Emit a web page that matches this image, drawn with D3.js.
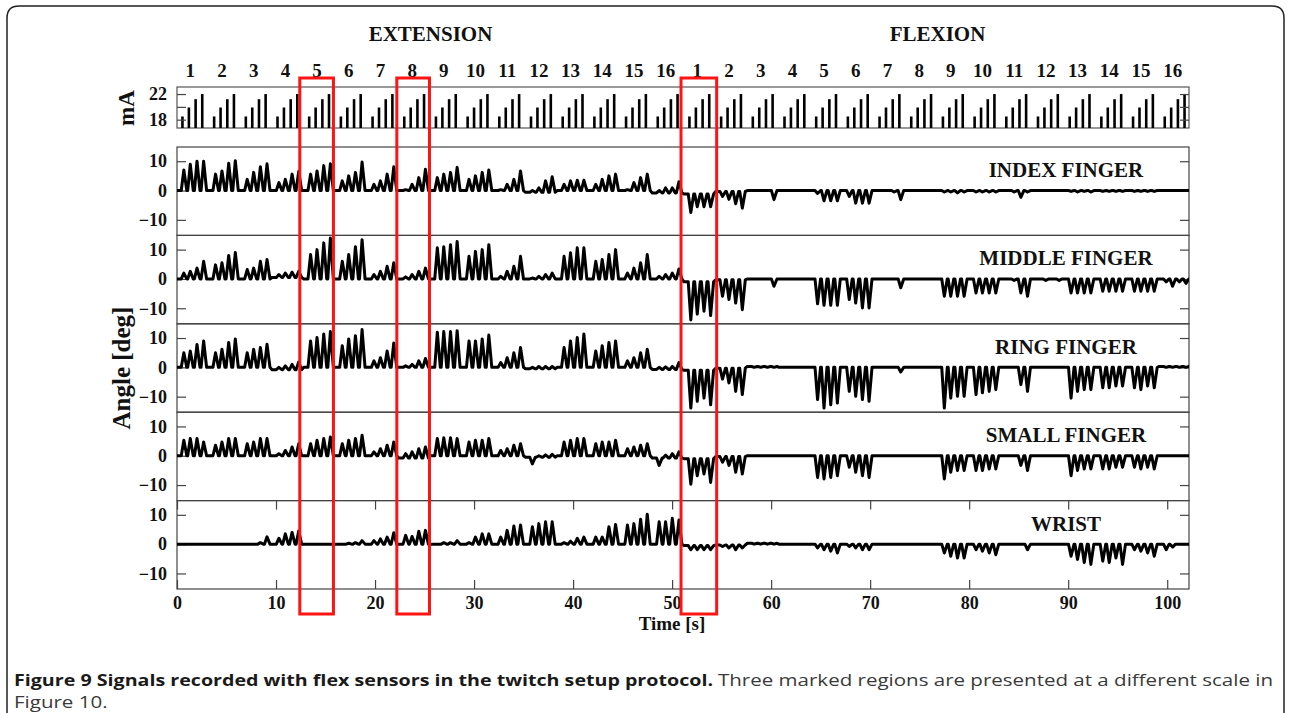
<!DOCTYPE html>
<html>
<head>
<meta charset="utf-8">
<script src="https://cdn.jsdelivr.net/npm/d3@7"></script>
<style>
    body { margin: 0; background: #fff; }
    svg text { font-family: "Liberation Serif", "Times New Roman", serif; font-weight: bold; fill: #111; }
    .caption { font-family: "Open Sans", "Liberation Sans", sans-serif; }
</style>
</head>
<body>
<svg id="paper" width="1291" height="713"></svg>
<script>
// stimulation blocks (s), 16 extension + 16 flexion
var blockStarts = [0, 3.2, 6.4, 9.6, 12.8, 16, 19.2, 22.4, 25.6, 28.8, 32, 35.2, 38.4, 41.6, 44.8, 48,
    51.2, 54.4, 57.6, 60.8, 64, 67.2, 70.4, 73.6, 76.8, 80, 83.2, 86.4, 89.6, 92.8, 96, 99.2];
var blockLabels = ["1", "2", "3", "4", "5", "6", "7", "8", "9", "10", "11", "12", "13", "14", "15", "16",
    "1", "2", "3", "4", "5", "6", "7", "8", "9", "10", "11", "12", "13", "14", "15", "16"];
var phaseTitles = ["EXTENSION", "FLEXION"];
var phaseCenters = [25.6, 76.8];

// four pulses in every block
var pulseOffsets = [0.55, 1.2, 1.88, 2.55];
var pulseCurrents = [18.5, 19.9, 21.2, 22.0];

var fingerNames = ["INDEX FINGER", "MIDDLE FINGER", "RING FINGER", "SMALL FINGER", "WRIST"];

// peak angle of each twitch [deg], one row per block
var indexPeaks = [
    [7, 9, 10, 10], [5.6, 6.7, 9.3, 10.2], [3.8, 6.2, 8.1, 9.1], [2.7, 3.8, 5.6, 6.5],
    [5.6, 6.7, 8.5, 9.1], [3.3, 5, 6.2, 9.7], [2.1, 3.3, 5.6, 8.1], [0.3, 2.1, 4.4, 7.3],
    [4.4, 5.6, 6.2, 7.9], [3.8, 5, 6.2, 7], [0.3, 2.1, 3.8, 6.7], [0, 0.9, 3.3, 4.7],
    [2.1, 3.3, 3.5, 3.5], [2.1, 3.8, 5, 5.6], [0.3, 2.7, 4.4, 5.6], [0, 0.9, 0.9, 3],
    [-7.5, -5.5, -5.5, -5.5], [-2, -3, -4.5, -6], [0, 0, 0, -3.1], [0, 0, 0, 0],
    [-1, -3.5, -3.5, -3.5], [-2, -4.3, -4.3, -4.3], [0, 0, -0.5, -3.1], [0, 0, 0, 0],
    [-0.5, -0.5, -0.8, -0.5], [-0.5, -0.5, -0.5, -0.5], [0, -0.5, -2.3, -0.5], [0, 0, 0, 0],
    [-0.3, -0.5, -0.3, -0.5], [-0.3, -0.3, -0.3, -0.3], [-0.3, -0.3, -0.3, -0.3], [0, 0, 0, 0]
];
var middlePeaks = [
    [2, 2.6, 3.7, 6], [4.8, 5.5, 8, 9], [3.2, 3.7, 6, 6.6], [1.5, 2, 2.3, 2.6],
    [8.3, 10, 12.3, 14], [6, 8.3, 11, 13.4], [1.5, 2.6, 4.3, 5.5], [0.7, 1.5, 2.6, 3.7],
    [10.6, 11, 11.7, 12.8], [7.7, 9.4, 10, 11.7], [0.9, 2.6, 4.3, 7.7], [0.3, 0.9, 1.5, 2],
    [7.7, 8.9, 10.6, 10.6], [6, 6.6, 8.3, 10], [2, 3.7, 5.5, 8.3], [0.9, 1.5, 2, 3.4],
    [-14, -12, -11, -12.5], [-5.9, -7, -8.2, -10.5], [0, 0, 0, -2.5], [0, 0, 0, 0],
    [-8.5, -9, -9, -9], [-7, -8.2, -9.9, -9.9], [0, 0, 0, -3], [0, 0, 0, 0],
    [-5.9, -5.9, -5.9, -5.9], [-4.8, -4.8, -4.8, -4.8], [0, -0.5, -4.8, -5.9], [0, -0.5, 0, -0.5],
    [-4.8, -4.8, -4.8, -4.8], [-4.2, -4.2, -4.2, -4.2], [-4.2, -4.2, -4.2, -4.2], [-1, -2.5, -1, -1.5]
];
var ringPeaks = [
    [5, 5.6, 7.8, 9], [5, 6.2, 8.5, 9.7], [5, 6.2, 6.8, 7.9], [0, 0.5, 1, 1.8],
    [9, 10.2, 11.4, 12.2], [7.4, 9.7, 10.8, 12.9], [2.2, 3.3, 5.6, 8.3], [0.5, 1, 2.2, 3],
    [12, 12.2, 12.2, 12.5], [9, 9, 9.7, 11], [1.6, 3.3, 5, 6.8], [0, 0.3, 0.3, 0.3],
    [6.8, 9, 10.2, 11.4], [5.6, 7.4, 8.5, 9], [2.2, 3.3, 5, 6.2], [0, 0.2, 0.3, 1.6],
    [-13.9, -11.6, -10.5, -12.8], [-4, -5.3, -8.2, -9.3], [0, 0, 0, 0], [0, 0, 0, 0],
    [-11, -13.9, -12.8, -12.2], [-8.2, -9.9, -11, -11.6], [0, 0, 0, -1.6], [0, 0, 0, 0],
    [-13.9, -10.5, -9.9, -9.9], [-9.3, -8.7, -8.2, -7.6], [0, 0, -5.9, -8.2], [0, 0, 0, 0],
    [-10.5, -8.2, -7.6, -7.6], [-7, -7, -6.4, -6.4], [-7, -7.6, -6.4, -7], [0, 0, 0, 0]
];
var smallPeaks = [
    [5.3, 5.9, 5.9, 4.7], [3.6, 4.7, 5.9, 5.9], [4.1, 4.7, 5.9, 5.9], [0.7, 1.8, 3, 4.1],
    [4.1, 5.3, 5.9, 6.4], [4.1, 5.3, 5.9, 7], [1.3, 2.4, 3.6, 4.7], [0.7, 1.3, 2.4, 3],
    [5.9, 6.1, 6.1, 5.9], [4.7, 5.3, 5.3, 5.9], [1.8, 2.4, 3.6, 4.1], [-2.8, 0, 0.3, 0.5],
    [4.7, 5.3, 5.9, 5.9], [4.1, 4.7, 4.7, 5.3], [2.4, 3, 3.6, 4.1], [-3.3, 0.2, 0.7, 1.3],
    [-9.7, -6.8, -6.2, -9.1], [-2.2, -3.3, -5.6, -6.2], [0, 0, 0, 0], [0, 0, 0, 0],
    [-7.4, -7.9, -7.4, -6.8], [-3.9, -5.6, -6.8, -7.4], [0, 0, 0, 0], [0, 0, 0, 0],
    [-7.9, -5.6, -5, -5], [-5, -5, -4.5, -4.5], [0, 0, -3.3, -5], [0, 0, 0, 0],
    [-6.8, -5, -4.5, -4.5], [-4.5, -4.5, -3.9, -3.9], [-3.9, -4.5, -3.9, -4.5], [0, 0, 0, 0]
];
var wristPeaks = [
    [0, 0, 0, 0], [0, 0, 0, 0], [0, 0, 0.5, 2.5], [2, 3.5, 4, 4.5],
    [0, 0, 0, 0], [0, 0.3, 0.5, 1.2], [1.2, 1.8, 2.4, 3.9], [3, 2.6, 4.4, 4.7],
    [0, 0.5, 0.5, 1.2], [0.5, 2.4, 3.5, 3.5], [2.4, 4.7, 6.2, 6.5], [5.9, 7, 7.6, 7.6],
    [0.5, 1, 2, 2.4], [2.4, 2.4, 5.9, 6.7], [6.5, 7, 8.5, 10.2], [7.6, 7.6, 8.8, 8.2],
    [-1.9, -1.9, -1.9, -1.9], [-0.8, -1.3, -1.9, -1.3], [0, 0, 0, 0], [0, 0, 0, 0],
    [-1.3, -1.9, -2.4, -3], [-0.8, -1.3, -1.9, -1.9], [0, 0, 0, 0], [0, 0, 0, 0],
    [-3, -4.1, -4.7, -4.7], [-1.9, -2.4, -3, -3.6], [0, 0, 0, -1.9], [0, 0, 0, 0],
    [-4.1, -5.2, -6.3, -6.9], [-5.8, -6.3, -4.7, -6.9], [-1.9, -2.4, -3, -4.1], [-1.9, -1, 0, 0]
];

// resting level between twitches [deg], one per block
var indexRest = [0, 0, 0, 0, 0, 0, 0, 0, 0, 0, 0, -0.6, 0, 0, 0, -0.8,
    -1.2, -0.3, 0, 0, 0, 0, 0, 0, 0, 0, 0, 0, 0, 0, 0, 0];
var middleRest = [0, 0, 0, 0.5, 0, 0, 0, 0, 0, 0, 0, 0, 0, 0, 0, 0,
    -1, -0.3, 0, 0, 0, 0, 0, 0, 0, 0, 0, 0, 0, 0, 0, 0];
var ringRest = [0, 0, 0, -0.8, 0, 0, 0, 0, 0, 0, 0, -0.5, 0, 0, 0, -0.7,
    -1, -0.3, 0.3, 0, 0, 0, 0, 0, 0, 0, 0, 0, 0, 0, 0, 0.3];
var smallRest = [0, 0, 0, 0, 0, 0, 0, -0.8, 0, 0, 0, -0.5, 0, 0, 0, -0.8,
    -1, -0.3, 0, 0, 0, 0, 0, 0, 0, 0, 0, 0, 0, 0, 0, 0];
var wristRest = [0, 0, 0, 0, 0, 0, 0, 0, 0, 0, 0, 0, 0, 0, 0, 0,
    -0.5, -0.3, 0.3, 0, 0, 0, 0, 0, 0, 0, 0, 0, 0, 0, 0, 0];

var markedRegions = [[12.4, 15.8], [22.2, 25.5], [50.9, 54.5]];

var timeTicks = [0, 10, 20, 30, 40, 50, 60, 70, 80, 90, 100];
var angleTicks = [-10, 0, 10];
var currentTicks = [18, 20, 22];
var currentLabels = [18, 22];

var captionBold = "Figure 9 Signals recorded with flex sensors in the twitch setup protocol.";
var captionText = "Three marked regions are presented at a different scale in";
var captionEnd = "Figure 10.";

var traces = [
    { peaks: indexPeaks, rest: indexRest },
    { peaks: middlePeaks, rest: middleRest },
    { peaks: ringPeaks, rest: ringRest },
    { peaks: smallPeaks, rest: smallRest },
    { peaks: wristPeaks, rest: wristRest }
];

var svg = d3.select("#paper");
var tMax = 102.2;
var x = d3.scaleLinear().domain([0, tMax]).range([177, 1189]);
var plotLeft = x(0), plotRight = x(tMax);

var panelTop = 147;
var panelHeight = 88.4;
var currentY = d3.scaleLinear().domain([16.7, 23.1]).range([128, 87]);

// outer frame of the figure
svg.append("path")
    .attr("d", "M7,713 V18 Q7,6 19,6 H1272 Q1284,6 1284,18 V713")
    .attr("fill", "none")
    .attr("stroke", "#222")
    .attr("stroke-width", 1.5);

// titles and block numbers
svg.selectAll(".phase").data(phaseTitles).enter().append("text")
    .attr("class", "phase")
    .attr("x", function (d, i) { return x(phaseCenters[i]); })
    .attr("y", 41)
    .attr("text-anchor", "middle")
    .style("font-size", "21px")
    .text(function (d) { return d; });

svg.selectAll(".blockNum").data(blockLabels).enter().append("text")
    .attr("class", "blockNum")
    .attr("x", function (d, i) { return x(blockStarts[i] + 1.35); })
    .attr("y", 77)
    .attr("text-anchor", "middle")
    .style("font-size", "19px")
    .text(function (d) { return d; });

function styleAxis(g) {
    g.select(".domain").remove();
    g.selectAll(".tick line").attr("stroke", "#444").attr("stroke-width", 1.2);
    g.selectAll(".tick text").style("font-size", "18px").attr("fill", "#111");
}

// current panel (mA)
var cur = svg.append("g");
cur.append("rect")
    .attr("x", plotLeft).attr("y", currentY.range()[1])
    .attr("width", plotRight - plotLeft).attr("height", currentY.range()[0] - currentY.range()[1])
    .attr("fill", "none").attr("stroke", "#555").attr("stroke-width", 1.2);

var bars = [];
blockStarts.forEach(function (start) {
    pulseOffsets.forEach(function (off, i) {
        bars.push({ t: start + off, mA: pulseCurrents[i] });
    });
});
cur.selectAll(".bar").data(bars.filter(function (b) { return b.t < tMax; })).enter().append("line")
    .attr("class", "bar")
    .attr("x1", function (d) { return x(d.t); })
    .attr("x2", function (d) { return x(d.t); })
    .attr("y1", currentY.range()[0])
    .attr("y2", function (d) { return currentY(d.mA); })
    .attr("stroke", "#000")
    .attr("stroke-width", 2.6);

cur.append("g")
    .attr("transform", "translate(" + plotLeft + ",0)")
    .call(d3.axisLeft(currentY).tickValues(currentTicks).tickSize(-9).tickPadding(10)
        .tickFormat(function (d) { return currentLabels.indexOf(d) >= 0 ? d : ""; }))
    .call(styleAxis);
cur.append("g")
    .attr("transform", "translate(" + plotRight + ",0)")
    .call(d3.axisRight(currentY).tickValues(currentTicks).tickSize(-9).tickFormat(""))
    .call(styleAxis);

svg.append("text")
    .attr("transform", "translate(134,108) rotate(-90)")
    .attr("text-anchor", "middle")
    .style("font-size", "23px")
    .text("mA");

// angle panels
function tracePoints(peaks, rest) {
    var pts = [];
    blockStarts.forEach(function (start, b) {
        var base = rest[b];
        pts.push([start, base]);
        peaks[b].forEach(function (p, i) {
            var t = start + pulseOffsets[i];
            pts.push([t - 0.12, base]);
            pts.push([t + 0.14, p]);
            pts.push([t + 0.44, base]);
        });
    });
    pts.push([tMax, rest[rest.length - 1]]);
    return pts.filter(function (p) { return p[0] <= tMax; });
}

svg.append("clipPath").attr("id", "plotClip")
    .append("rect")
    .attr("x", plotLeft).attr("y", panelTop)
    .attr("width", plotRight - plotLeft).attr("height", panelHeight * 5);

traces.forEach(function (tr, k) {
    var top = panelTop + k * panelHeight;
    var y = d3.scaleLinear().domain([-15.3, 14.85]).range([top + panelHeight, top]);
    var g = svg.append("g");

    g.append("rect")
        .attr("x", plotLeft).attr("y", top)
        .attr("width", plotRight - plotLeft).attr("height", panelHeight)
        .attr("fill", "none").attr("stroke", "#444").attr("stroke-width", 1.2);

    g.append("g")
        .attr("transform", "translate(" + plotLeft + ",0)")
        .call(d3.axisLeft(y).tickValues(angleTicks).tickSize(-9).tickPadding(10))
        .call(styleAxis);
    g.append("g")
        .attr("transform", "translate(" + plotRight + ",0)")
        .call(d3.axisRight(y).tickValues(angleTicks).tickSize(-9).tickFormat(""))
        .call(styleAxis);

    var line = d3.line()
        .x(function (d) { return x(d[0]); })
        .y(function (d) { return y(d[1]); });

    g.append("path")
        .datum(tracePoints(tr.peaks, tr.rest))
        .attr("clip-path", "url(#plotClip)")
        .attr("d", line)
        .attr("fill", "none")
        .attr("stroke", "#000")
        .attr("stroke-width", 3)
        .attr("stroke-linejoin", "round");

    g.append("text")
        .attr("x", 1066)
        .attr("y", top + 30)
        .attr("text-anchor", "middle")
        .style("font-size", "21px")
        .text(fingerNames[k]);

    if (k == traces.length - 1) {
        g.append("g")
            .attr("transform", "translate(0," + (top + panelHeight) + ")")
            .call(d3.axisBottom(x).tickValues(timeTicks).tickSize(-9).tickPadding(7))
            .call(styleAxis);
        g.append("g")
            .attr("transform", "translate(0," + top + ")")
            .call(d3.axisTop(x).tickValues(timeTicks).tickSize(-9).tickFormat(""))
            .call(styleAxis);
    }
});

svg.append("text")
    .attr("transform", "translate(130," + (panelTop + panelHeight * 2.5) + ") rotate(-90)")
    .attr("text-anchor", "middle")
    .style("font-size", "25px")
    .text("Angle [deg]");

svg.append("text")
    .attr("x", 672)
    .attr("y", 630)
    .attr("text-anchor", "middle")
    .style("font-size", "19px")
    .text("Time [s]");

// marked regions, drawn over the traces
svg.selectAll(".mark").data(markedRegions).enter().append("rect")
    .attr("class", "mark")
    .attr("x", function (d) { return x(d[0]); })
    .attr("y", 78)
    .attr("width", function (d) { return x(d[1]) - x(d[0]); })
    .attr("height", 536)
    .attr("fill", "none")
    .attr("stroke", "#ff1414")
    .attr("stroke-width", 3);

// caption
var capBold = svg.append("text").attr("class", "caption")
    .attr("x", 14).attr("y", 686)
    .style("font-size", "16px").style("font-weight", "bold").style("fill", "#1a1a1a")
    .text(captionBold);
var capText = svg.append("text").attr("class", "caption")
    .attr("x", 718).attr("y", 686)
    .style("font-size", "16px").style("font-weight", "normal").style("fill", "#3a3a3a")
    .text(captionText);
var capEnd = svg.append("text").attr("class", "caption")
    .attr("x", 14).attr("y", 708)
    .style("font-size", "16px").style("font-weight", "normal").style("fill", "#3a3a3a")
    .text(captionEnd);

// squeeze the caption to the narrow width of the original
var squeeze = 555 / capText.node().getComputedTextLength();
capBold.attr("textLength", 699).attr("lengthAdjust", "spacingAndGlyphs");
capText.attr("textLength", 555).attr("lengthAdjust", "spacingAndGlyphs");
capEnd.attr("textLength", capEnd.node().getComputedTextLength() * squeeze).attr("lengthAdjust", "spacingAndGlyphs");
</script>
</body>
</html>
